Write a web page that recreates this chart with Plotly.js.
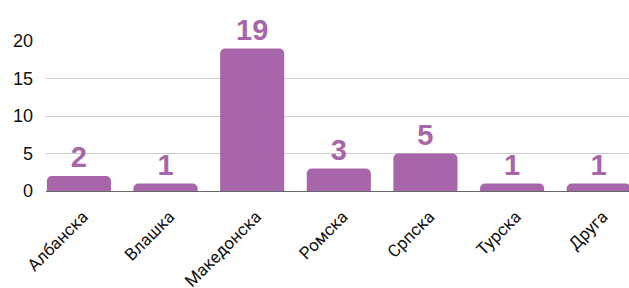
<!DOCTYPE html>
<html><head><meta charset="utf-8">
<script src="https://cdn.plot.ly/plotly-3.0.1.min.js"></script>
<style>html,body{margin:0;padding:0;background:#fff}#c{width:629px;height:288px}</style>
</head><body><div id="c"></div>
<script>
const categories = ["Албанска","Влашка","Македонска","Ромска","Српска","Турска","Друга"];
const values = [2, 1, 19, 3, 5, 1, 1];
const yTicks = [0, 5, 10, 15, 20];

const purple = "#a866aa";
Plotly.newPlot("c", [{
  type: "bar",
  x: categories,
  y: values,
  marker: {color: purple},
  text: values.map(String),
  textposition: "outside",
  cliponaxis: false,
  textfont: {family: "Liberation Sans Narrow, Liberation Sans, Arial, sans-serif", size: 29, color: purple, weight: "bold"},
  hoverinfo: "none"
}], {
  width: 629, height: 288,
  margin: {l: 46, r: 0, t: 41, b: 97},
  paper_bgcolor: "#fff", plot_bgcolor: "#fff",
  bargap: 0.26,
  barcornerradius: 5,
  showlegend: false,
  xaxis: {
    type: "category",
    range: [-0.38, 6.35],
    tickangle: -45,
    tickfont: {family: "Roboto, Liberation Sans, Arial, sans-serif", size: 17, color: "#111"},
    ticklabelstandoff: 8,
    ticklabelshift: 4,
    showgrid: false,
    showline: true, linecolor: "#666", linewidth: 1,
    ticks: ""
  },
  yaxis: {
    range: [0, 20],
    tickvals: yTicks,
    tickfont: {family: "Liberation Sans, Arial, sans-serif", size: 18, color: "#111"},
    gridcolor: "#cccccc", gridwidth: 1,
    zeroline: false,
    ticklabelstandoff: 12,
    showline: false, ticks: ""
  },
  font: {family: "Liberation Sans, Arial, sans-serif"}
}, {staticPlot: true});
</script></body></html>
